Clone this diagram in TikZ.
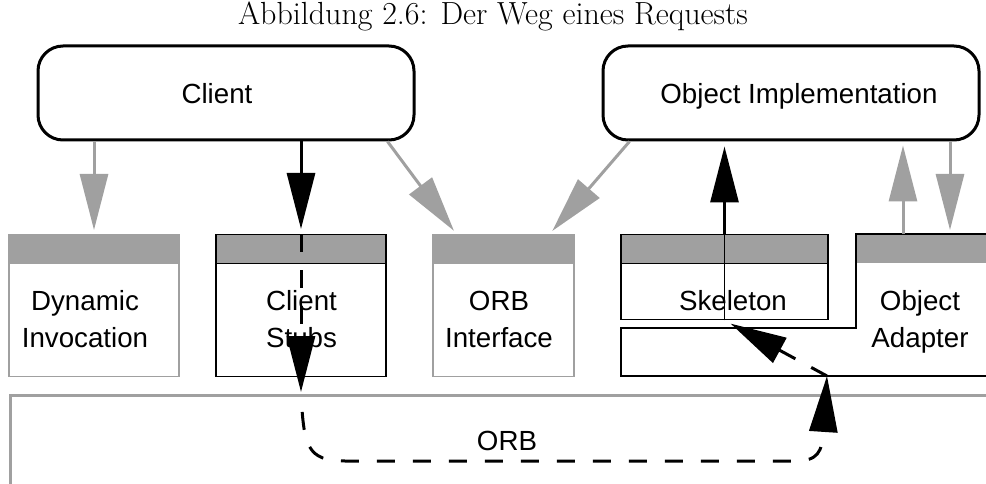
\documentclass[tikz,border=0pt]{standalone}
\usepackage{fontspec}
\setsansfont{Liberation Sans}
\usetikzlibrary{arrows.meta}
\definecolor{midgray}{HTML}{A0A0A0}
\tikzset{
  titletext/.style={font=\fontsize{32}{38}\selectfont, inner sep=0pt, anchor=base},
  lbl/.style={font=\sffamily\fontsize{27.7}{37}\selectfont, align=center, inner sep=0pt, anchor=base},
  rbox/.style={draw=black, line width=3pt, rounded corners=25pt, minimum width=376pt, minimum height=94pt, inner sep=0pt},
  hdr/.style={fill=midgray, line width=1.3pt, minimum height=29pt, inner sep=0pt, anchor=north},
  body/.style={line width=1.3pt, inner sep=0pt, anchor=north},
  thinblack/.style={draw=black, line width=1.3pt},
  bigtip/.style={-{Triangle[length=56pt,width=28pt]}},
  grayflow/.style={draw=midgray, line width=3pt, bigtip, shorten >=4pt},
  blackflow/.style={draw=black, line width=3pt, bigtip, shorten >=5pt},
  dashflow/.style={draw=black, line width=3pt, bigtip, dash pattern=on 18pt off 18pt},
}
\begin{document}
\begin{tikzpicture}[x=1pt,y=-1pt]
\useasboundingbox (0,0) rectangle (986,484);

% caption
\node[titletext] (title) at (493,25) {Abbildung 2.6: Der Weg eines Requests};

% ORB bus along the bottom
\node[draw=midgray, line width=2.5pt, minimum width=1000pt, minimum height=120pt, anchor=north west, inner sep=0pt] (orb) at (9,394) {};
\node[lbl] (orb-t) at (507,450) {ORB};

% application objects
\node[rbox] (client) at (226,93) {};
\node[rbox] (oi) at (791,93) {};
\node[lbl] (client-t) at (217,104) {Client};
\node[lbl] (oi-t) at (799,104) {Object Implementation};

% Dynamic Invocation (two-line labels are placed by the baseline of their last line)
\node[hdr, draw=midgray, minimum width=170pt] (di-h) at (94,234) {};
\node[body, draw=midgray, minimum width=170pt, minimum height=113pt] (di) at (94,263) {};
\node[lbl] (di-t) at (85,347) {Dynamic\\Invocation};

% Client Stubs
\node[hdr, draw=black, minimum width=170pt] (cs-h) at (301,234) {};
\node[body, draw=black, minimum width=170pt, minimum height=113pt] (cs) at (301,263) {};
\node[lbl] (cs-t) at (301.5,347) {Client\\Stubs};

% ORB Interface
\node[hdr, draw=midgray, minimum width=141pt] (orbi-h) at (503.5,234) {};
\node[body, draw=midgray, minimum width=141pt, minimum height=113pt] (orbi) at (503.5,263) {};
\node[lbl] (orbi-t) at (499,347) {ORB\\Interface};

% Skeleton
\node[hdr, draw=black, minimum width=207pt] (sk-h) at (724.5,234) {};
\node[body, draw=black, minimum width=207pt, minimum height=56pt] (sk) at (724.5,263) {};
\node[lbl] (sk-t) at (733,310) {Skeleton};

% Object Adapter (wraps under the skeleton)
\fill[midgray] (856,234) rectangle (1000,263);
\draw[thinblack] (1000,234) -- (856,234) -- (856,328) -- (621,328) -- (621,376) -- (1000,376);
\node[lbl] (oa-t) at (920,347) {Object\\Adapter};
\coordinate (oa-up) at (903,234);
\coordinate (oa-down) at (950,234);
\coordinate (oa-in) at (827,376);

% static relations
\draw[grayflow] (client.south -| di-h.north) -- (di-h.north);
\draw[grayflow] ([xshift=-28pt]client.south east) -- ([xshift=24pt]orbi-h.north west);
\draw[grayflow] ([xshift=28pt]oi.south west) -- ([xshift=-25pt]orbi-h.north east);
\draw[grayflow] (oa-up) -- (oa-up |- oi.south);
\draw[grayflow] (oi.south -| oa-down) -- (oa-down);

% path of a request
\draw[blackflow] (client.south -| cs-h.north) -- (cs-h.north);
\draw[dashflow, shorten >=2pt] (cs-h.north) -- (cs.south |- orb.north);
\draw[dashflow, dash phase=18pt] (cs.south |- orb.north)
  .. controls (304,445) and (306,461) .. (345,461) -- (795,461)
  .. controls (818,461) and (822,452) .. (oa-in);
\draw[dashflow, shorten >=7pt] (oa-in) -- (sk.south);
\draw[thinblack] (sk.south) -- (sk-h.north);
\draw[blackflow] (sk-h.north) -- (sk-h.north |- oi.south);
\end{tikzpicture}
\end{document}
